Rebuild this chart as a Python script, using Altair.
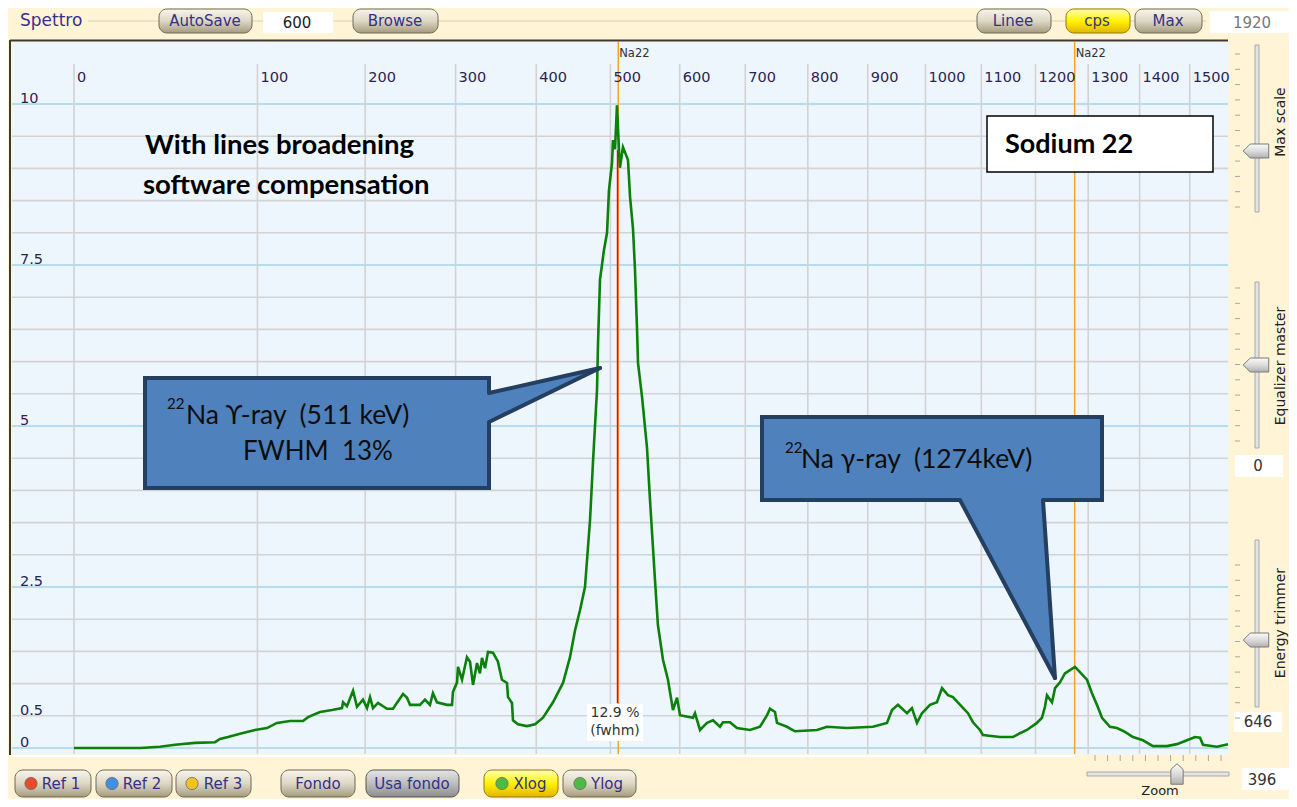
import altair as alt
import pandas as pd

# ---------------- values ----------------
energy_keV = [0, 21.6, 32.1, 40.9, 53.6, 67.4, 71.0, 76.9, 86.1, 98.0,
              107.9, 116.4, 127.8, 139.5, 144.1, 155.3, 166.8, 176.6, 177.6, 181.5,
              187.6, 191.6, 197.7, 201.9, 205.0, 208.1, 213.3, 222.9, 229.3, 240.2,
              244.6, 247.9, 259.0, 264.6, 270.3, 273.7, 278.3, 289.9, 295.8, 296.9,
              301.7, 302.9, 307.6, 313.5, 317.2, 320.8, 325.6, 329.2, 331.7, 335.4,
              339.0, 345.2, 351.3, 356.3, 362.6, 363.9, 368.9, 370.2, 376.5, 388.0,
              398.4, 408.8, 421.9, 435.2, 444.6, 451.4, 458.1, 464.9, 471.8, 475.8,
              481.4, 482.8, 485.5, 491.0, 495.3, 498.0, 502.2, 503.6, 506.5, 509.2,
              512.0, 513.4, 517.7, 522.0, 524.8, 527.7, 531.9, 534.7, 537.6, 539.1,
              544.9, 552.0, 556.4, 563.6, 567.9, 575.3, 582.6, 590.0, 596.0, 600.4,
              619.8, 622.8, 630.4, 641.0, 650.1, 660.8, 665.4, 676.2, 687.0, 707.4,
              723.1, 734.3, 739.0, 747.0, 750.2, 766.2, 779.1, 815.1, 831.6, 864.9,
              908.9, 932.9, 941.6, 951.9, 967.6, 976.2, 985.1, 993.8, 1007.9, 1020.3,
              1029.3, 1039.8, 1048.8, 1065.0, 1075.8, 1084.8, 1097.5, 1103.0, 1134.1, 1147.0,
              1158.1, 1171.0, 1184.0, 1202.6, 1212.1, 1217.7, 1221.5, 1231.0, 1236.7, 1246.1,
              1255.5, 1265.0, 1274.7, 1284.1, 1297.6, 1307.2, 1316.8, 1326.6, 1342.0, 1355.7,
              1371.3, 1387.0, 1406.6, 1426.5, 1454.3, 1474.3, 1494.4, 1510.5, 1520.8, 1526.8,
              1555.2, 1577.8]
cps_values = [0.00, 0.00, 0.02, 0.05, 0.08, 0.09, 0.14, 0.17, 0.22, 0.28,
              0.31, 0.39, 0.42, 0.42, 0.48, 0.56, 0.59, 0.62, 0.71, 0.65,
              0.89, 0.64, 0.75, 0.62, 0.79, 0.62, 0.70, 0.61, 0.61, 0.84,
              0.78, 0.67, 0.67, 0.75, 0.67, 0.85, 0.71, 0.67, 0.67, 0.87,
              1.02, 1.26, 1.06, 1.41, 1.34, 0.98, 1.32, 1.16, 1.40, 1.24,
              1.49, 1.48, 1.34, 1.06, 1.01, 0.79, 0.70, 0.43, 0.37, 0.34,
              0.37, 0.47, 0.71, 1.01, 1.41, 1.83, 2.14, 2.50, 3.54, 4.43,
              5.56, 6.29, 7.27, 7.73, 8.00, 8.66, 9.08, 9.44, 9.30, 9.98,
              9.30, 9.01, 9.33, 9.21, 9.13, 8.56, 8.07, 7.45, 6.54, 5.98,
              5.45, 4.67, 3.85, 2.61, 1.91, 1.37, 1.06, 0.59, 0.78, 0.51,
              0.47, 0.54, 0.28, 0.39, 0.43, 0.33, 0.40, 0.40, 0.31, 0.28,
              0.33, 0.51, 0.61, 0.56, 0.39, 0.33, 0.26, 0.28, 0.33, 0.31,
              0.33, 0.39, 0.59, 0.67, 0.54, 0.62, 0.39, 0.54, 0.67, 0.71,
              0.93, 0.82, 0.79, 0.64, 0.54, 0.40, 0.28, 0.20, 0.17, 0.17,
              0.17, 0.23, 0.28, 0.39, 0.47, 0.64, 0.82, 0.71, 0.93, 1.02,
              1.16, 1.21, 1.26, 1.18, 1.06, 0.85, 0.67, 0.47, 0.33, 0.31,
              0.25, 0.17, 0.12, 0.03, 0.03, 0.06, 0.12, 0.17, 0.16, 0.05,
              0.02, 0.06]
assert len(energy_keV) == len(cps_values)

x_tick_values = [0, 100, 200, 300, 400, 500, 600, 700, 800, 900, 1000, 1100, 1200, 1300, 1400, 1500]
y_label_values = [0, 0.5, 2.5, 5, 7.5, 10]
grid_major_cps = [0, 2.5, 5, 7.5, 10]
grid_minor_cps = [0.5, 1, 1.5, 2, 3, 3.5, 4, 4.5, 5.5, 6, 6.5, 7, 8, 8.5, 9, 9.5]
na22_line_keV = [511, 1274]
na22_line_name = ["Na22", "Na22"]
fwhm_marker_keV = [510]
fwhm_marker_top = [9.29]
fwhm_marker_bottom = [0.70]
fwhm_labels = ["12.9 %", "(fwhm)"]
note_lines = ["With lines broadening", "software compensation"]
source_label = ["Sodium 22"]
callout_main = ["Na \u03d2-ray \u00a0(511 keV)", "Na \u03b3-ray \u00a0(1274keV)"]
callout_sup = ["22", "22"]
callout_second = ["FWHM \u00a013%"]

# ---------------- styles ----------------
UI_FONT = "DejaVu Sans"
DOC_FONT = "Lato"
CREAM = "#FFF4D6"
PLOT_BG = "#EEF6FD"
GRID_GREY = "#D3D3D3"
GRID_BLUE = "#A6D2EA"
GREEN = "#0B800B"
ORANGE = "#F7A51E"
BOX_FILL = "#4F81BD"
BOX_EDGE = "#253F61"
LABEL = "#2A2452"
BTN_TEXT = "#35308A"

W, H = 1216, 712
X_LEFT = -19.65
xs = alt.Scale(type="pow", exponent=2 / 3, domain=[X_LEFT, 1577.8], nice=False, zero=False)
ys = alt.Scale(type="linear", domain=[-0.093, 10.963], nice=False, zero=False)

# pixel space used for the software's window chrome and the pasted callouts
PX = alt.Scale(domain=[12, 1228], range=[0, W], nice=False, zero=False)
PY = alt.Scale(domain=[42, 754], range=[0, H], nice=False, zero=False)

# ---------------- data layers ----------------
spec_df = pd.DataFrame({"energy": energy_keV, "cps": cps_values})

minor_h = alt.Chart(pd.DataFrame({"cps": grid_minor_cps})).mark_rule(color=GRID_GREY, strokeWidth=1.6).encode(
    y=alt.Y("cps:Q", scale=ys, axis=None))
major_h = alt.Chart(pd.DataFrame({"cps": grid_major_cps})).mark_rule(color=GRID_BLUE, strokeWidth=1.6).encode(
    y=alt.Y("cps:Q", scale=ys, axis=None))
vgrid = alt.Chart(pd.DataFrame({"energy": x_tick_values})).mark_rule(color=GRID_GREY, strokeWidth=1.6).encode(
    x=alt.X("energy:Q", scale=xs, axis=None),
    y=alt.YDatum(10.62, scale=ys, axis=None), y2=alt.Y2Datum(-0.093))

# tick labels (drawn inside the plot, as the program does)
xlab_df = pd.DataFrame({"energy": x_tick_values, "label": [f"{v:d}" for v in x_tick_values]})
xlabels = alt.Chart(xlab_df).mark_text(align="left", baseline="middle", dx=3, font=UI_FONT,
                                       fontSize=14.5, color=LABEL).encode(
    x=alt.X("energy:Q", scale=xs, axis=None), y=alt.YDatum(10.40, scale=ys, axis=None), text="label:N")
ylab_df = pd.DataFrame({"cps": y_label_values, "label": [f"{v:g}" for v in y_label_values]})
ylabels = alt.Chart(ylab_df).mark_text(align="left", baseline="alphabetic", dx=8, dy=-1, font=UI_FONT,
                                       fontSize=14.5, color=LABEL).encode(
    x=alt.XDatum(X_LEFT, scale=xs, axis=None), y=alt.Y("cps:Q", scale=ys, axis=None), text="label:N")

na22_df = pd.DataFrame({"energy": na22_line_keV, "name": na22_line_name})
orange = alt.Chart(na22_df).mark_rule(color=ORANGE, strokeWidth=1.5).encode(
    x=alt.X("energy:Q", scale=xs, axis=None))
na22_txt = alt.Chart(na22_df).mark_text(align="left", baseline="middle", dx=1, font=UI_FONT,
                                        fontSize=11.5, color="#333333").encode(
    x=alt.X("energy:Q", scale=xs, axis=None), y=alt.YDatum(10.77, scale=ys, axis=None), text="name:N")

red = alt.Chart(pd.DataFrame({"energy": fwhm_marker_keV, "top": fwhm_marker_top,
                              "bottom": fwhm_marker_bottom})).mark_rule(color="#FF0000", strokeWidth=1.5).encode(
    x=alt.X("energy:Q", scale=xs, axis=None), y=alt.Y("top:Q", scale=ys, axis=None), y2="bottom:Q")

line = alt.Chart(spec_df).mark_line(color=GREEN, strokeWidth=2.6).encode(
    x=alt.X("energy:Q", scale=xs, axis=None),
    y=alt.Y("cps:Q", scale=ys, axis=None))

data_group = alt.layer(minor_h, major_h, vgrid, orange, red, line, xlabels, ylabels, na22_txt)

# ---------------- window chrome and annotations (pixel layout) ----------------
def box(df, **mark):
    return alt.Chart(df).mark_rect(**mark).encode(
        x=alt.X("x0:Q", scale=PX, axis=None), x2="x1:Q",
        y=alt.Y("y0:Q", scale=PY, axis=None), y2="y1:Q")

def seg(df, **mark):
    return alt.Chart(df).mark_rule(**mark).encode(
        x=alt.X("x0:Q", scale=PX, axis=None), x2="x1:Q",
        y=alt.Y("y0:Q", scale=PY, axis=None), y2="y1:Q")

def txt(df, **mark):
    return alt.Chart(df).mark_text(**mark).encode(
        x=alt.X("x:Q", scale=PX, axis=None), y=alt.Y("y:Q", scale=PY, axis=None), text="t:N")

def grad(c0, c1, c2):
    return alt.Gradient(gradient="linear", x1=0, x2=0, y1=0, y2=1,
                        stops=[alt.GradientStop(color=c0, offset=0),
                               alt.GradientStop(color=c1, offset=0.5),
                               alt.GradientStop(color=c2, offset=1)])

frame = seg(pd.DataFrame({"x0": [10, 10], "x1": [1228, 10], "y0": [40.5, 40], "y1": [40.5, 755]}),
            color="#3A3A3A", strokeWidth=2)
groove = seg(pd.DataFrame({"x0": [88], "x1": [1206], "y0": [21], "y1": [21]}), color="#D6CFBB", strokeWidth=1.2)
white_band = seg(pd.DataFrame({"x0": [12], "x1": [1075], "y0": [756], "y1": [756]}), color="#FFFFFF", strokeWidth=2)

btn = pd.DataFrame({
    "t": ["AutoSave", "Browse", "Linee", "cps", "Max", "Ref 1", "Ref 2", "Ref 3", "Fondo", "Usa fondo", "Xlog", "Ylog"],
    "x0": [159, 353, 977, 1066, 1135, 15, 96, 176, 281, 366, 484, 563],
    "x1": [252, 438, 1051, 1130, 1202, 91, 172, 251, 355, 459, 558, 636],
    "y0": [9, 9, 9, 9, 9, 770, 770, 770, 770, 770, 770, 770],
    "y1": [33, 33, 33, 33, 33, 797, 797, 797, 797, 797, 797, 797],
    "x": [205, 395, 1013, 1097, 1168, 61, 142, 223, 318, 412, 530, 607],
    "y": [21, 21, 21, 21, 21, 783.5, 783.5, 783.5, 783.5, 783.5, 783.5, 783.5],
    "style": ["plain", "plain", "plain", "yellow", "plain", "plain", "plain", "plain", "plain", "dark", "yellow", "plain"],
})
btn_plain = box(btn[btn["style"] == "plain"], fill=grad("#F8F5EC", "#DDD7C4", "#A49B7E"),
                stroke="#6F6852", strokeWidth=1, cornerRadius=8)
btn_yellow = box(btn[btn["style"] == "yellow"], fill=grad("#FFFFB8", "#FFF200", "#E2B400"),
                 stroke="#9A7800", strokeWidth=1, cornerRadius=8)
btn_dark = box(btn[btn["style"] == "dark"], fill=grad("#E6E6E6", "#BDBDBD", "#8E8E8E"),
               stroke="#555555", strokeWidth=1, cornerRadius=8)
btn_text = txt(btn, font=UI_FONT, fontSize=15, color=BTN_TEXT, align="center", baseline="middle")

leds = pd.DataFrame({"x": [31, 112, 192, 502, 580], "y": [783.5] * 5,
                     "c": ["#E84A2A", "#3F8FE2", "#F2C21E", "#4DBA45", "#4DBA45"]})
led_marks = alt.Chart(leds).mark_circle(size=150, opacity=1, stroke="#6A6A6A", strokeWidth=0.8).encode(
    x=alt.X("x:Q", scale=PX, axis=None), y=alt.Y("y:Q", scale=PY, axis=None),
    color=alt.Color("c:N", scale=None))

spettro = txt(pd.DataFrame({"t": ["Spettro"], "x": [20], "y": [21]}),
              font=UI_FONT, fontSize=17, color="#3B2D8F", align="left", baseline="middle")

value_boxes = pd.DataFrame({
    "t": ["600", "1920", "0", "646", "396"],
    "x0": [263, 1210, 1235, 1234, 1242], "x1": [333, 1295, 1283, 1282, 1290],
    "y0": [12, 11, 455, 712, 768], "y1": [33, 33, 477, 732, 790],
    "x": [297, 1252, 1258, 1258, 1262], "y": [22.5, 22.5, 466, 722, 779.5],
    "c": ["#222222", "#777777", "#333333", "#333333", "#333333"],
})
vbox = box(value_boxes, fill="#FFFFFF")
vbox_text = alt.Chart(value_boxes).mark_text(font=UI_FONT, fontSize=15, align="center", baseline="middle").encode(
    x=alt.X("x:Q", scale=PX, axis=None), y=alt.Y("y:Q", scale=PY, axis=None), text="t:N",
    color=alt.Color("c:N", scale=None))

tracks = pd.DataFrame({"x0": [1255, 1255, 1255, 1087], "x1": [1259, 1259, 1259, 1229],
                       "y0": [45, 282, 540, 772], "y1": [212, 448, 707, 776]})
track_marks = box(tracks, fill="#E4E4E4", stroke="#A8A8A8", strokeWidth=1)

thumb_fill = grad("#FAFAFA", "#DCDCDC", "#B0B0B0")
vthumbs = pd.DataFrame({"x": [1256, 1256, 1256], "y": [151, 365, 640]})
vthumb_marks = alt.Chart(vthumbs).mark_point(
    shape="M-1,0 L-0.45,-0.55 L1,-0.55 L1,0.55 L-0.45,0.55 Z", size=650, filled=True,
    fill=thumb_fill, stroke="#7A7A7A", strokeWidth=1, opacity=1).encode(
    x=alt.X("x:Q", scale=PX, axis=None), y=alt.Y("y:Q", scale=PY, axis=None))
hthumb = pd.DataFrame({"x": [1177], "y": [774]})
hthumb_marks = alt.Chart(hthumb).mark_point(
    shape="M0,-1 L0.6,-0.45 L0.6,1 L-0.6,1 L-0.6,-0.45 Z", size=420, filled=True,
    fill=thumb_fill, stroke="#7A7A7A", strokeWidth=1, opacity=1).encode(
    x=alt.X("x:Q", scale=PX, axis=None), y=alt.Y("y:Q", scale=PY, axis=None))

tick_starts = [54, 288, 565]
tick_rows = []
for s in tick_starts:
    for i in range(11):
        yy = s + i * 15.3
        tick_rows.append({"x0": 1235, "x1": 1240, "y0": yy, "y1": yy})
for i in range(11):
    xx = 1095 + i * 12.6
    tick_rows.append({"x0": xx, "x1": xx, "y0": 755, "y1": 761})
ticks_marks = seg(pd.DataFrame(tick_rows), color="#A6A6A6", strokeWidth=1)

slider_labels = txt(pd.DataFrame({"t": ["Max scale", "Equalizer master", "Energy trimmer"],
                                  "x": [1281, 1281, 1281], "y": [122, 366, 623]}),
                    font=UI_FONT, fontSize=14, color="#222222", align="center", baseline="middle", angle=270)
zoom_label = txt(pd.DataFrame({"t": ["Zoom"], "x": [1160], "y": [798]}),
                 font=UI_FONT, fontSize=13, color="#222222", align="center", baseline="bottom")

# fwhm readout
fwhm_box = box(pd.DataFrame({"x0": [587], "x1": [643], "y0": [704], "y1": [741]}), fill="#FFFFFF")
fwhm_txt = txt(pd.DataFrame({"t": fwhm_labels, "x": [615, 615], "y": [713, 731]}),
               font=UI_FONT, fontSize=14, color="#333333", align="center", baseline="middle")

# annotations pasted on the screenshot
notes = txt(pd.DataFrame({"t": note_lines, "x": [145, 143], "y": [146, 186]}),
            font=DOC_FONT, fontSize=27.5, fontWeight="bold", color="#000000", align="left", baseline="middle")
sodium_box = box(pd.DataFrame({"x0": [987], "x1": [1213], "y0": [116], "y1": [172]}),
                 fill="#FFFFFF", stroke="#000000", strokeWidth=1.5)
sodium_txt = txt(pd.DataFrame({"t": source_label, "x": [1005], "y": [145]}),
                 font=DOC_FONT, fontSize=27, fontWeight="bold", color="#000000", align="left", baseline="middle")

callout_boxes = box(pd.DataFrame({"x0": [145, 762], "x1": [489, 1102], "y0": [378, 417], "y1": [488, 500]}),
                    fill=BOX_FILL, stroke=BOX_EDGE, strokeWidth=4)
ptr1 = alt.Chart(pd.DataFrame({"x": [482, 600], "y": [394.6, 368], "y2": [425.4, 368]})).mark_area(
    color=BOX_FILL, opacity=1, orient="vertical").encode(
    x=alt.X("x:Q", scale=PX, axis=None), y=alt.Y("y:Q", scale=PY, axis=None), y2="y2:Q")
ptr2 = alt.Chart(pd.DataFrame({"y": [492, 678], "x": [955.8, 1055], "x2": [1042.4, 1055]})).mark_area(
    color=BOX_FILL, opacity=1, orient="horizontal").encode(
    y=alt.Y("y:Q", scale=PY, axis=None), x=alt.X("x:Q", scale=PX, axis=None), x2="x2:Q")
ptr_edges = seg(pd.DataFrame({"x0": [489, 489, 960, 1043], "x1": [600, 600, 1055, 1055],
                              "y0": [393, 422, 500, 500], "y1": [368, 368, 678, 678]}),
                color=BOX_EDGE, strokeWidth=4, strokeCap="round")
call_main = txt(pd.DataFrame({"t": callout_main, "x": [186, 801], "y": [416, 460]}),
                font=DOC_FONT, fontSize=26.5, color="#0D0D0D", align="left", baseline="middle")
call_sup = txt(pd.DataFrame({"t": callout_sup, "x": [167, 785], "y": [404, 448]}),
               font=DOC_FONT, fontSize=15, color="#0D0D0D", align="left", baseline="middle")
call_second = txt(pd.DataFrame({"t": callout_second, "x": [243], "y": [452]}),
                  font=DOC_FONT, fontSize=26, color="#0D0D0D", align="left", baseline="middle")

chrome_group = alt.layer(
    frame, groove, white_band, btn_plain, btn_yellow, btn_dark, btn_text, led_marks, spettro,
    vbox, vbox_text, track_marks, ticks_marks, vthumb_marks, hthumb_marks, slider_labels, zoom_label,
    fwhm_box, fwhm_txt, notes, sodium_box, sodium_txt,
    callout_boxes, ptr1, ptr2, ptr_edges, call_main, call_sup, call_second)

chart = alt.layer(data_group, chrome_group).resolve_scale(x="independent", y="independent").properties(
    width=W, height=H,
    padding={"left": 4, "top": 34, "right": 61, "bottom": 45},
    autosize=alt.AutoSizeParams(type="none"),
    background=CREAM,
).configure_view(fill=PLOT_BG, stroke="transparent")

chart.save("out.html", embed_options={"renderer": "svg", "actions": False})
